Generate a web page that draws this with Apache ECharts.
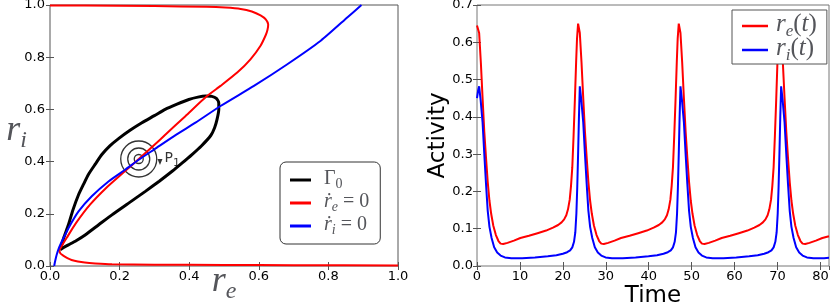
<!DOCTYPE html>
<html>
<head>
<meta charset="utf-8">
<script src="https://cdn.jsdelivr.net/npm/echarts@6/dist/echarts.min.js"></script>
<style>
html,body{margin:0;padding:0;background:#fff;}
#c{width:830px;height:305px;}
</style>
</head>
<body>
<div id="c"></div>
<script>
// ---------- DATA ----------
// Phase plane: x = r_e, y = r_i
const phaseTicks = [0.0, 0.2, 0.4, 0.6, 0.8, 1.0];
// r_e nullcline (red)
const nullRe = [
  [0.0,0.998],[0.1,0.998],[0.3,0.996],[0.45,0.993],[0.504,0.99],[0.548,0.985],[0.58,0.975],
  [0.605,0.96],[0.62,0.945],[0.627,0.925],[0.625,0.905],[0.62,0.885],[0.605,0.844],[0.576,0.792],
  [0.538,0.741],[0.49,0.69],[0.451,0.651],[0.389,0.574],[0.332,0.504],[0.317,0.485],[0.255,0.41],
  [0.21,0.357],[0.162,0.3],[0.115,0.235],[0.075,0.165],[0.048,0.108],[0.033,0.075],[0.027,0.06],
  [0.03,0.048],[0.038,0.04],[0.05,0.03],[0.062,0.023],[0.08,0.017],[0.1,0.013],[0.13,0.01],
  [0.178,0.007],[0.3,0.005],[0.5,0.004],[0.7,0.003],[1.0,0.002]
];
// r_i nullcline (blue)
const nullRi = [
  [0.012,0.0],[0.015,0.02],[0.019,0.042],[0.026,0.07],[0.034,0.094],[0.053,0.145],[0.082,0.209],
  [0.12,0.267],[0.168,0.324],[0.216,0.369],[0.255,0.407],[0.3,0.447],[0.364,0.504],[0.418,0.549],
  [0.49,0.613],[0.586,0.69],[0.682,0.773],[0.778,0.863],[0.855,0.953],[0.895,1.0]
];
// limit cycle Gamma_0 (black)
const cycleG0 = [
  [0.029,0.062],[0.04,0.11],[0.053,0.158],[0.066,0.215],[0.082,0.273],[0.097,0.315],[0.11,0.35],
  [0.13,0.39],[0.149,0.427],[0.172,0.46],[0.197,0.488],[0.23,0.52],[0.264,0.549],[0.3,0.576],
  [0.331,0.6],[0.365,0.62],[0.399,0.638],[0.425,0.647],[0.447,0.651],[0.465,0.65],[0.478,0.642],
  [0.485,0.625],[0.485,0.6],[0.48,0.562],[0.473,0.53],[0.462,0.5],[0.435,0.46],[0.408,0.427],
  [0.38,0.395],[0.351,0.363],[0.314,0.325],[0.274,0.286],[0.225,0.24],[0.178,0.196],[0.14,0.158],
  [0.101,0.119],[0.075,0.097],[0.053,0.081],[0.038,0.07],[0.029,0.062]
];
const fixedP1 = [0.255, 0.41];
const arrowP1 = [0.316, 0.398];
const phaseLegend = ['G0', 'RE0', 'RI0'];

// Time series
const timeTicks = [0, 10, 20, 30, 40, 50, 60, 70, 80];
const activityTicks = [0.0, 0.1, 0.2, 0.3, 0.4, 0.5, 0.6, 0.7];
const reT = [
  [0,0.645],[0.1,0.65],[0.5,0.625],[0.9,0.545],[1.3,0.45],[1.7,0.36],[2.1,0.29],[2.5,0.225],[2.9,0.175],
  [3.3,0.14],[3.8,0.108],[4.4,0.083],[5.0,0.067],[5.5,0.06],[6.1,0.059],[7.1,0.062],[8.6,0.068],
  [10.1,0.075],[12.1,0.081],[14.1,0.088],[16.1,0.095],[17.7,0.103],[18.9,0.11],[19.7,0.117],
  [20.3,0.125],[20.8,0.136],[21.2,0.152],[21.6,0.178],[21.9,0.215],[22.2,0.265],[22.5,0.35],
  [22.8,0.445],[23.1,0.55],[23.3,0.61],[23.55,0.65],
  [23.95,0.625],[24.35,0.545],[24.75,0.45],[25.15,0.36],[25.55,0.29],[25.95,0.225],[26.35,0.175],
  [26.75,0.14],[27.25,0.108],[27.85,0.083],[28.45,0.067],[28.95,0.06],[29.55,0.059],[30.55,0.062],
  [32.05,0.068],[33.55,0.075],[35.55,0.081],[37.55,0.088],[39.55,0.095],[41.15,0.103],[42.35,0.11],
  [43.15,0.117],[43.75,0.125],[44.25,0.136],[44.65,0.152],[45.05,0.178],[45.35,0.215],[45.65,0.265],
  [45.95,0.35],[46.25,0.445],[46.55,0.55],[46.75,0.61],[47.0,0.65],
  [47.4,0.625],[47.8,0.545],[48.2,0.45],[48.6,0.36],[49.0,0.29],[49.4,0.225],[49.8,0.175],[50.2,0.14],
  [50.7,0.108],[51.3,0.083],[51.9,0.067],[52.4,0.06],[53.0,0.059],[54.0,0.062],[55.5,0.068],[57.0,0.075],
  [59.0,0.081],[61.0,0.088],[63.0,0.095],[64.6,0.103],[65.8,0.11],[66.6,0.117],[67.2,0.125],[67.7,0.136],
  [68.1,0.152],[68.5,0.178],[68.8,0.215],[69.1,0.265],[69.4,0.35],[69.7,0.445],[70.0,0.55],[70.2,0.61],
  [70.45,0.65],
  [70.85,0.625],[71.25,0.545],[71.65,0.45],[72.05,0.36],[72.45,0.29],[72.85,0.225],[73.25,0.175],
  [73.65,0.14],[74.15,0.108],[74.75,0.083],[75.35,0.067],[75.85,0.06],[76.45,0.059],[77.45,0.062],
  [78.95,0.068],[80.45,0.075],[82,0.08]
];
const riT = [
  [0,0.45],[0.25,0.47],[0.5,0.482],[0.85,0.445],[1.3,0.385],[1.7,0.30],[2.1,0.22],[2.5,0.148],[2.9,0.105],
  [3.4,0.075],[4.0,0.05],[4.7,0.036],[5.5,0.028],[6.5,0.023],[8.0,0.021],[10.5,0.021],[13.5,0.023],
  [16.5,0.026],[18.5,0.029],[20.0,0.033],[21.0,0.037],[21.7,0.042],[22.2,0.05],[22.6,0.065],[22.9,0.09],
  [23.15,0.14],[23.35,0.21],[23.55,0.30],[23.75,0.40],[23.95,0.482],
  [24.3,0.445],[24.75,0.385],[25.15,0.30],[25.55,0.22],[25.95,0.148],[26.35,0.105],[26.85,0.075],
  [27.45,0.05],[28.15,0.036],[28.95,0.028],[29.95,0.023],[31.45,0.021],[33.95,0.021],[36.95,0.023],
  [39.95,0.026],[41.95,0.029],[43.45,0.033],[44.45,0.037],[45.15,0.042],[45.65,0.05],[46.05,0.065],
  [46.35,0.09],[46.6,0.14],[46.8,0.21],[47.0,0.30],[47.2,0.40],[47.4,0.482],
  [47.75,0.445],[48.2,0.385],[48.6,0.30],[49.0,0.22],[49.4,0.148],[49.8,0.105],[50.3,0.075],[50.9,0.05],
  [51.6,0.036],[52.4,0.028],[53.4,0.023],[54.9,0.021],[57.4,0.021],[60.4,0.023],[63.4,0.026],[65.4,0.029],
  [66.9,0.033],[67.9,0.037],[68.6,0.042],[69.1,0.05],[69.5,0.065],[69.8,0.09],[70.05,0.14],[70.25,0.21],
  [70.45,0.30],[70.65,0.40],[70.85,0.482],
  [71.2,0.445],[71.65,0.385],[72.05,0.30],[72.45,0.22],[72.85,0.148],[73.25,0.105],[73.75,0.075],
  [74.35,0.05],[75.05,0.036],[75.85,0.028],[76.85,0.023],[78.35,0.021],[80.85,0.021],[82,0.022]
];
const timeLegend = ['RET', 'RIT'];

// ---------- CHART ----------
const chart = echarts.init(document.getElementById('c'), null, {renderer: 'canvas'});
const frame = '#555';
const serif = 'Liberation Serif, DejaVu Serif, serif';
const sans = 'DejaVu Sans, sans-serif';
const tickLabel = {color: '#000', fontFamily: sans, fontSize: 13};
// main glyphs aligned to top, subscripts aligned to bottom of a taller line -> subscript sits below baseline
const legendRich = {
  m: {fontFamily: serif, fontStyle: 'italic', fontSize: 20, lineHeight: 18, verticalAlign: 'top'},
  u: {fontFamily: serif, fontSize: 20, lineHeight: 18, verticalAlign: 'top'},
  s: {fontFamily: serif, fontStyle: 'italic', fontSize: 14, lineHeight: 22, verticalAlign: 'bottom'},
  su: {fontFamily: serif, fontSize: 14, lineHeight: 22, verticalAlign: 'bottom'}
};
const legendRich2 = {
  m: {fontFamily: serif, fontStyle: 'italic', fontSize: 25, lineHeight: 22, verticalAlign: 'top'},
  u: {fontFamily: serif, fontSize: 25, lineHeight: 22, verticalAlign: 'top'},
  s: {fontFamily: serif, fontStyle: 'italic', fontSize: 17, lineHeight: 28, verticalAlign: 'bottom'}
};
const legendText = {
  G0: '{u|Γ}{su|0}',
  RE0: '{m|ṙ}{s|e}{u| = 0}',
  RI0: '{m|ṙ}{s|i}{u| = 0}',
  RET: '{m|r}{s|e}{u|(}{m|t}{u|)}',
  RIT: '{m|r}{s|i}{u|(}{m|t}{u|)}'
};
function fmt1(v){ return v.toFixed(1); }

function valAxis(opts){
  return Object.assign({
    type: 'value',
    splitLine: {show: false},
    axisLine: {show: false},
    nameMoveOverlap: false,
    axisTick: {show: true, inside: true, length: 4, lineStyle: {color: frame}},
    axisLabel: Object.assign({show: true, showMinLabel: true, showMaxLabel: true}, tickLabel)
  }, opts);
}
const pMin = phaseTicks[0], pMax = phaseTicks[phaseTicks.length-1], pInt = phaseTicks[1]-phaseTicks[0];
const tMin = timeTicks[0], tInt = timeTicks[1]-timeTicks[0];
const aMin = activityTicks[0], aMax = activityTicks[activityTicks.length-1], aInt = 0.1;

const nameRich = {
  r: {fontFamily: serif, fontStyle: 'italic', fontSize: 36, lineHeight: 30, verticalAlign: 'top'},
  s: {fontFamily: serif, fontStyle: 'italic', fontSize: 24, lineHeight: 40, verticalAlign: 'bottom'}
};

const option = {
  animation: false,
  backgroundColor: '#fff',
  grid: [
    {left: 50, top: 5, width: 348, height: 261, show: true, borderColor: frame, borderWidth: 1,
      backgroundColor: '#fff', outerBoundsMode: 'none', containLabel: false},
    {left: 477, top: 5, width: 352, height: 261, show: true, borderColor: '#777', borderWidth: 1,
      backgroundColor: '#fff', outerBoundsMode: 'none', containLabel: false}
  ],
  xAxis: [
    valAxis({gridIndex: 0, position: 'bottom', min: pMin, max: pMax, interval: pInt,
      axisLabel: Object.assign({formatter: fmt1, margin: 4, showMinLabel: true, showMaxLabel: true}, tickLabel),
      name: '{r|r}{s|e}', nameLocation: 'middle', nameGap: -2,
      nameTextStyle: {rich: nameRich}}),
    valAxis({gridIndex: 0, position: 'top', min: pMin, max: pMax, interval: pInt, axisLabel: {show: false}}),
    valAxis({gridIndex: 1, position: 'bottom', min: tMin, max: 82, interval: tInt,
      axisLabel: Object.assign({margin: 4, showMaxLabel: false}, tickLabel),
      name: 'Time', nameLocation: 'middle', nameGap: 19,
      nameTextStyle: {fontFamily: sans, fontSize: 23, lineHeight: 23, color: '#000'}}),
    valAxis({gridIndex: 1, position: 'top', min: tMin, max: 82, interval: tInt, axisLabel: {show: false}})
  ],
  yAxis: [
    valAxis({gridIndex: 0, position: 'left', min: pMin, max: pMax, interval: pInt,
      axisLabel: Object.assign({formatter: fmt1, margin: 5}, tickLabel),
      name: '{r|r}{s|i}', nameLocation: 'middle', nameGap: 23, nameRotate: 0,
      nameTextStyle: {rich: nameRich, align: 'right', padding: [0, 0, 5, 0]}}),
    valAxis({gridIndex: 0, position: 'right', min: pMin, max: pMax, interval: pInt, axisLabel: {show: false}}),
    valAxis({gridIndex: 1, position: 'left', min: aMin, max: aMax, interval: aInt,
      axisLabel: Object.assign({formatter: fmt1, margin: 4}, tickLabel),
      name: 'Activity', nameLocation: 'middle', nameGap: 27,
      nameTextStyle: {fontFamily: sans, fontSize: 23, lineHeight: 23, color: '#000'}}),
    valAxis({gridIndex: 1, position: 'right', min: aMin, max: aMax, interval: aInt, axisLabel: {show: false}})
  ],
  legend: [
    {
      data: phaseLegend, left: 280, top: 162, orient: 'vertical',
      icon: 'rect', itemWidth: 21, itemHeight: 3, itemGap: 1,
      padding: [7, 11, 7, 10],
      backgroundColor: '#fff', borderColor: '#333', borderWidth: 1, borderRadius: 6,
      formatter: n => legendText[n],
      textStyle: {rich: legendRich, padding: [0,0,0,8]}
    },
    {
      data: timeLegend, left: 732, top: 10, orient: 'vertical',
      icon: 'rect', itemWidth: 26, itemHeight: 2.5, itemGap: -4,
      padding: [2, 10, 0, 10],
      backgroundColor: '#fff', borderColor: '#555', borderWidth: 1, borderRadius: 0,
      formatter: n => legendText[n],
      textStyle: {rich: legendRich2, padding: [0,0,0,3]}
    }
  ],
  series: [
    {type: 'scatter', name: 'c1', xAxisIndex: 0, yAxisIndex: 0, data: [fixedP1], symbol: 'circle', symbolSize: 9,
      itemStyle: {color: 'rgba(0,0,0,0)', borderColor: '#000', borderWidth: 1.3}, silent: true},
    {type: 'scatter', name: 'c2', xAxisIndex: 0, yAxisIndex: 0, data: [fixedP1], symbol: 'circle', symbolSize: 22,
      itemStyle: {color: 'rgba(0,0,0,0)', borderColor: '#000', borderWidth: 1.3}, silent: true},
    {type: 'scatter', name: 'c3', xAxisIndex: 0, yAxisIndex: 0, data: [fixedP1], symbol: 'circle', symbolSize: 36,
      itemStyle: {color: 'rgba(0,0,0,0)', borderColor: '#000', borderWidth: 1.3}, silent: true},
    {type: 'scatter', name: 'arrow', xAxisIndex: 0, yAxisIndex: 0, data: [arrowP1], symbol: 'triangle',
      symbolRotate: 180, symbolSize: [5, 6], itemStyle: {color: '#000'}, silent: true,
      label: {show: true, position: 'right', distance: 2, offset: [0, -2], formatter: '{p|P}{s|1}',
        rich: {p: {fontFamily: sans, fontSize: 14, lineHeight: 12, verticalAlign: 'top', color: '#000'},
               s: {fontFamily: sans, fontSize: 11, lineHeight: 17, verticalAlign: 'bottom', color: '#000'}}}},
    {type: 'line', name: 'G0', xAxisIndex: 0, yAxisIndex: 0, data: cycleG0, showSymbol: false, smooth: 0.2,
      lineStyle: {color: '#000', width: 3}, itemStyle: {color: '#000'}},
    {type: 'line', name: 'RE0', xAxisIndex: 0, yAxisIndex: 0, data: nullRe, showSymbol: false, smooth: 0.2,
      lineStyle: {color: '#ff0000', width: 2}, itemStyle: {color: '#ff0000'}},
    {type: 'line', name: 'RI0', xAxisIndex: 0, yAxisIndex: 0, data: nullRi, showSymbol: false, smooth: 0.2,
      lineStyle: {color: '#0000ff', width: 2}, itemStyle: {color: '#0000ff'}},
    {type: 'line', name: 'RET', xAxisIndex: 2, yAxisIndex: 2, data: reT, showSymbol: false,
      lineStyle: {color: '#ff0000', width: 2}, itemStyle: {color: '#ff0000'}},
    {type: 'line', name: 'RIT', xAxisIndex: 2, yAxisIndex: 2, data: riT, showSymbol: false,
      lineStyle: {color: '#0000ff', width: 2}, itemStyle: {color: '#0000ff'}}
  ]
};
chart.setOption(option);
</script>
</body>
</html>
